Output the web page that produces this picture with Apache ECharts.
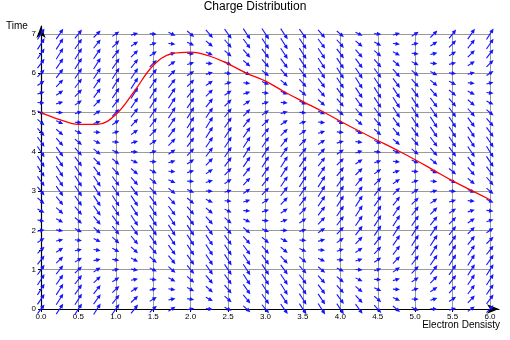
<!DOCTYPE html>
<html><head><meta charset="utf-8">
<script src="https://cdn.jsdelivr.net/npm/echarts@6/dist/echarts.min.js"></script>
<style>html,body{margin:0;padding:0;background:#fff}#c{width:510px;height:340px}</style>
</head><body><div id="c"></div>
<script>
const chartTitle = 'Charge Distribution';
const xName = 'Electron Densisty';
const yName = 'Time';

// arrow grid positions
const gridX = [0,0.25,0.5,0.75,1,1.25,1.5,1.75,2,2.25,2.5,2.75,3,3.25,3.5,3.75,4,4.25,4.5,4.75,5,5.25,5.5,5.75,6];
const gridY = [0,0.25,0.5,0.75,1,1.25,1.5,1.75,2,2.25,2.5,2.75,3,3.25,3.5,3.75,4,4.25,4.5,4.75,5,5.25,5.5,5.75,6,6.25,6.5,6.75,7];

// slope (dy/dx) of the arrow at each grid point, one row per gridY value
const slopes = [
[2.5,2.8,3.0,3.0,2.7,2.4,1.8,1.2,0.4,-0.3,-1.0,-1.7,-2.3,-2.7,-2.9,-3.0,-2.9,-2.6,-2.1,-1.6,-0.9,-0.1,0.6,1.3,2.0],
[2.8,3.0,3.0,2.7,2.4,1.8,1.2,0.4,-0.3,-1.0,-1.7,-2.3,-2.7,-2.9,-3.0,-2.9,-2.6,-2.1,-1.6,-0.9,-0.1,0.6,1.3,2.0,2.5],
[3.0,3.0,2.7,2.4,1.8,1.2,0.4,-0.3,-1.0,-1.7,-2.3,-2.7,-2.9,-3.0,-2.9,-2.6,-2.1,-1.6,-0.9,-0.1,0.6,1.3,2.0,2.5,2.8],
[3.0,2.7,2.4,1.8,1.2,0.4,-0.3,-1.0,-1.7,-2.3,-2.7,-2.9,-3.0,-2.9,-2.6,-2.1,-1.6,-0.9,-0.1,0.6,1.3,2.0,2.5,2.8,3.0],
[2.7,2.4,1.8,1.2,0.4,-0.3,-1.0,-1.7,-2.3,-2.7,-2.9,-3.0,-2.9,-2.6,-2.1,-1.6,-0.9,-0.1,0.6,1.3,2.0,2.5,2.8,3.0,3.0],
[2.4,1.8,1.2,0.4,-0.3,-1.0,-1.7,-2.3,-2.7,-2.9,-3.0,-2.9,-2.6,-2.1,-1.6,-0.9,-0.1,0.6,1.3,2.0,2.5,2.8,3.0,3.0,2.8],
[1.8,1.2,0.4,-0.3,-1.0,-1.7,-2.3,-2.7,-2.9,-3.0,-2.9,-2.6,-2.1,-1.6,-0.9,-0.1,0.6,1.3,2.0,2.5,2.8,3.0,3.0,2.8,2.4],
[1.2,0.4,-0.3,-1.0,-1.7,-2.3,-2.7,-2.9,-3.0,-2.9,-2.6,-2.1,-1.6,-0.9,-0.1,0.6,1.3,2.0,2.5,2.8,3.0,3.0,2.8,2.4,1.9],
[0.4,-0.3,-1.0,-1.7,-2.3,-2.7,-2.9,-3.0,-2.9,-2.6,-2.1,-1.6,-0.9,-0.1,0.6,1.3,2.0,2.5,2.8,3.0,3.0,2.8,2.4,1.9,1.3],
[-0.3,-1.0,-1.7,-2.3,-2.7,-2.9,-3.0,-2.9,-2.6,-2.1,-1.6,-0.9,-0.1,0.6,1.3,2.0,2.5,2.8,3.0,3.0,2.8,2.4,1.9,1.3,0.6],
[-1.0,-1.7,-2.3,-2.7,-2.9,-3.0,-2.9,-2.6,-2.1,-1.6,-0.9,-0.1,0.6,1.3,2.0,2.5,2.8,3.0,3.0,2.8,2.4,1.9,1.3,0.6,-0.2],
[-1.7,-2.3,-2.7,-2.9,-3.0,-2.9,-2.6,-2.1,-1.6,-0.9,-0.1,0.6,1.3,2.0,2.5,2.8,3.0,3.0,2.8,2.4,1.9,1.3,0.6,-0.2,-0.9],
[-2.3,-2.7,-2.9,-3.0,-2.9,-2.6,-2.1,-1.6,-0.9,-0.1,0.6,1.3,2.0,2.5,2.8,3.0,3.0,2.8,2.4,1.9,1.3,0.6,-0.2,-0.9,-1.6],
[-2.7,-2.9,-3.0,-2.9,-2.6,-2.1,-1.6,-0.9,-0.1,0.6,1.3,2.0,2.5,2.8,3.0,3.0,2.8,2.4,1.9,1.3,0.6,-0.2,-0.9,-1.6,-2.2],
[-2.9,-3.0,-2.9,-2.6,-2.1,-1.6,-0.9,-0.1,0.6,1.3,2.0,2.5,2.8,3.0,3.0,2.8,2.4,1.9,1.3,0.6,-0.2,-0.9,-1.6,-2.2,-2.6],
[-3.0,-2.9,-2.6,-2.1,-1.6,-0.9,-0.1,0.6,1.3,2.0,2.5,2.8,3.0,3.0,2.8,2.4,1.9,1.3,0.6,-0.2,-0.9,-1.6,-2.2,-2.6,-2.9],
[-2.9,-2.6,-2.1,-1.6,-0.9,-0.1,0.6,1.3,2.0,2.5,2.8,3.0,3.0,2.8,2.4,1.9,1.3,0.6,-0.2,-0.9,-1.6,-2.2,-2.6,-2.9,-3.0],
[-2.6,-2.1,-1.6,-0.9,-0.1,0.6,1.3,2.0,2.5,2.8,3.0,3.0,2.8,2.4,1.9,1.3,0.6,-0.2,-0.9,-1.6,-2.2,-2.6,-2.9,-3.0,-2.9],
[-2.1,-1.6,-0.9,-0.1,0.6,1.3,2.0,2.5,2.8,3.0,3.0,2.8,2.4,1.9,1.3,0.6,-0.2,-0.9,-1.6,-2.2,-2.6,-2.9,-3.0,-2.9,-2.6],
[-1.6,-0.9,-0.1,0.6,1.3,2.0,2.5,2.8,3.0,3.0,2.8,2.4,1.9,1.3,0.6,-0.2,-0.9,-1.6,-2.2,-2.6,-2.9,-3.0,-2.9,-2.6,-2.2],
[-0.9,-0.1,0.6,1.3,2.0,2.5,2.8,3.0,3.0,2.8,2.4,1.9,1.3,0.6,-0.2,-0.9,-1.6,-2.2,-2.6,-2.9,-3.0,-2.9,-2.6,-2.2,-1.6],
[-0.1,0.6,1.3,2.0,2.5,2.8,3.0,3.0,2.8,2.4,1.9,1.3,0.6,-0.2,-0.9,-1.6,-2.2,-2.6,-2.9,-3.0,-2.9,-2.6,-2.2,-1.6,-1.0],
[0.6,1.3,2.0,2.5,2.8,3.0,3.0,2.8,2.4,1.9,1.3,0.6,-0.2,-0.9,-1.6,-2.2,-2.6,-2.9,-3.0,-2.9,-2.6,-2.2,-1.6,-1.0,-0.2],
[1.3,2.0,2.5,2.8,3.0,3.0,2.8,2.4,1.9,1.3,0.6,-0.2,-0.9,-1.6,-2.2,-2.6,-2.9,-3.0,-2.9,-2.6,-2.2,-1.6,-1.0,-0.2,0.5],
[2.0,2.5,2.8,3.0,3.0,2.8,2.4,1.9,1.3,0.6,-0.2,-0.9,-1.6,-2.2,-2.6,-2.9,-3.0,-2.9,-2.6,-2.2,-1.6,-1.0,-0.2,0.5,1.2],
[2.5,2.8,3.0,3.0,2.8,2.4,1.9,1.3,0.6,-0.2,-0.9,-1.6,-2.2,-2.6,-2.9,-3.0,-2.9,-2.6,-2.2,-1.6,-1.0,-0.2,0.5,1.2,1.9],
[2.8,3.0,3.0,2.8,2.4,1.9,1.3,0.6,-0.2,-0.9,-1.6,-2.2,-2.6,-2.9,-3.0,-2.9,-2.6,-2.2,-1.6,-1.0,-0.2,0.5,1.2,1.9,2.4],
[3.0,3.0,2.8,2.4,1.9,1.3,0.6,-0.2,-0.9,-1.6,-2.2,-2.6,-2.9,-3.0,-2.9,-2.6,-2.2,-1.6,-1.0,-0.2,0.5,1.2,1.9,2.4,2.8],
[3.0,2.8,2.4,1.9,1.3,0.6,-0.2,-0.9,-1.6,-2.2,-2.6,-2.9,-3.0,-2.9,-2.6,-2.2,-1.6,-1.0,-0.2,0.5,1.2,1.9,2.4,2.8,3.0]
];

// red curve
const curveX = [0,0.25,0.5,0.75,1,1.25,1.5,1.75,2,2.25,2.5,2.75,3,3.25,3.5,3.75,4,4.25,4.5,4.75,5,5.25,5.5,5.75,6];
const curveY = [5.0,4.82,4.70,4.70,4.95,5.55,6.2,6.5,6.54,6.44,6.24,6.0,5.8,5.53,5.28,5.04,4.78,4.53,4.29,4.05,3.8,3.53,3.26,3.02,2.78];

const FONT = '"Liberation Sans", Arial, Helvetica, sans-serif';
const ARROW_HALF = 0.047;   // half of horizontal extent in x units
const BLUE = '#1414ff';

const arrowData = [];
for (let j = 0; j < gridY.length; j++) {
  for (let i = 0; i < gridX.length; i++) {
    arrowData.push([gridX[i], gridY[j], slopes[j][i]]);
  }
}
const curveData = curveX.map((x, k) => [x, curveY[k]]);

function renderArrow(params, api) {
  const x = api.value(0), y = api.value(1), s = api.value(2);
  const p0 = api.coord([x - ARROW_HALF, y - ARROW_HALF * s]);
  const p1 = api.coord([x + ARROW_HALF, y + ARROW_HALF * s]);
  const dx = p1[0] - p0[0], dy = p1[1] - p0[1];
  const len = Math.hypot(dx, dy);
  const ux = dx / len, uy = dy / len;
  const hl = 4.5, hw = 2.1;
  const bx = p1[0] - ux * hl, by = p1[1] - uy * hl;
  return {
    type: 'group',
    children: [
      { type: 'line', shape: { x1: p0[0], y1: p0[1], x2: bx + ux, y2: by + uy }, style: { stroke: BLUE, lineWidth: 1.1 } },
      { type: 'polygon', shape: { points: [[p1[0], p1[1]], [bx - uy * hw, by + ux * hw], [bx + uy * hw, by - ux * hw]] }, style: { fill: BLUE } }
    ]
  };
}

const chart = echarts.init(document.getElementById('c'), null, { renderer: 'canvas' });
chart.setOption({
  animation: false,
  backgroundColor: '#fff',
  title: [
    { text: chartTitle, left: 'center', top: 1, padding: 0, textStyle: { fontFamily: FONT, fontSize: 12, fontWeight: 'normal', color: '#000' } },
    { text: yName, left: 6, top: 21, padding: 0, textStyle: { fontFamily: FONT, fontSize: 10, fontWeight: 'normal', color: '#000' } },
    { text: xName, right: 10, top: 320, padding: 0, textStyle: { fontFamily: FONT, fontSize: 10, fontWeight: 'normal', color: '#000' } }
  ],
  grid: [
    { left: 41, right: 20, top: 34, bottom: 31 },
    { left: 41, right: 11, top: 26, bottom: 31 }
  ],
  xAxis: [
    {
      gridIndex: 0, type: 'value', min: 0, max: 6, interval: 0.5,
      axisLine: { show: false },
      axisTick: { show: true, length: 3, lineStyle: { color: '#000' } },
      axisLabel: { fontFamily: FONT, fontSize: 8, color: '#000', margin: 4, formatter: v => v.toFixed(1) },
      splitLine: { show: true, lineStyle: { color: '#9a9a9a', width: 1 } }
    },
    {
      gridIndex: 1, type: 'value', min: 0, max: 1,
      axisLine: { show: true, symbol: ['none', 'arrow'], symbolSize: [7, 12], lineStyle: { color: '#000', width: 1.2 } },
      axisTick: { show: false }, axisLabel: { show: false }, splitLine: { show: false }
    }
  ],
  yAxis: [
    {
      gridIndex: 0, type: 'value', min: 0, max: 7, interval: 1,
      axisLine: { show: false },
      axisTick: { show: true, length: 3, lineStyle: { color: '#000' } },
      minorTick: { show: true, splitNumber: 2, length: 2, lineStyle: { color: '#000' } },
      axisLabel: { fontFamily: FONT, fontSize: 8, color: '#000', margin: 5 },
      splitLine: { show: true, lineStyle: { color: '#9a9a9a', width: 1 } }
    },
    {
      gridIndex: 1, type: 'value', min: 0, max: 1,
      axisLine: { show: true, symbol: ['none', 'arrow'], symbolSize: [7, 12], lineStyle: { color: '#000', width: 1.2 } },
      axisTick: { show: false }, axisLabel: { show: false }, splitLine: { show: false }
    }
  ],
  series: [
    {
      type: 'custom', xAxisIndex: 0, yAxisIndex: 0, renderItem: renderArrow,
      data: arrowData, clip: false, z: 3, silent: true
    },
    {
      type: 'line', xAxisIndex: 0, yAxisIndex: 0, data: curveData, smooth: 0.4,
      showSymbol: false, symbol: 'none', lineStyle: { color: '#ff0000', width: 1.3 }, z: 4, silent: true
    }
  ]
});
</script>
</body></html>
